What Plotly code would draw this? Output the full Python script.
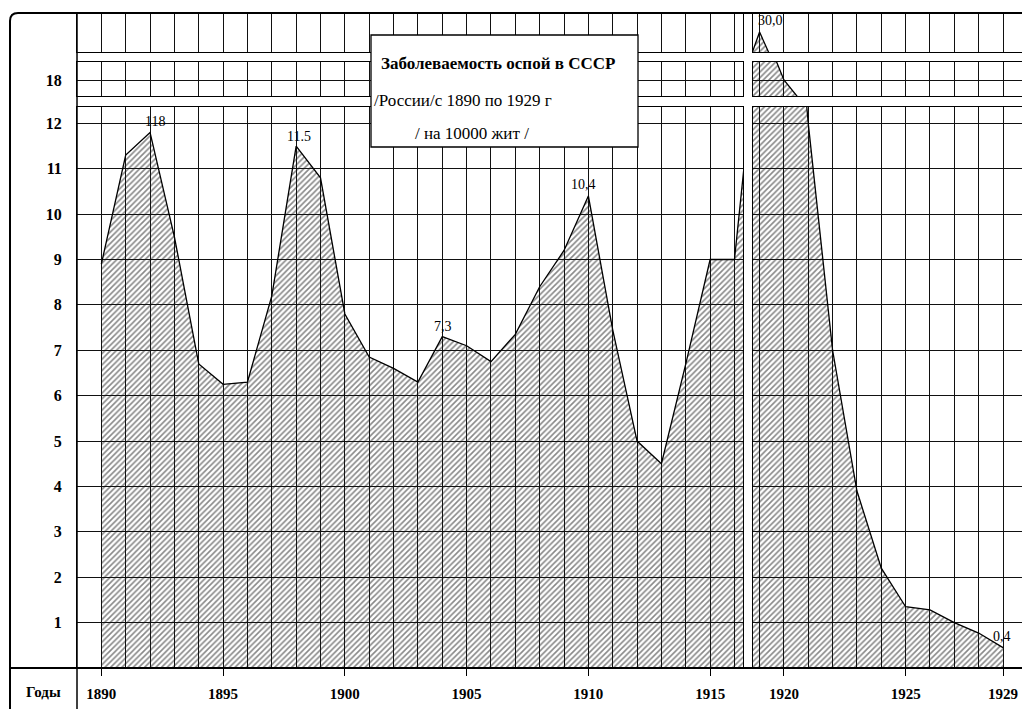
import plotly.graph_objects as go
from plotly.subplots import make_subplots

# ---- data (1917/1918 lie hidden in the axis break, estimated) ----
years = [1890, 1891, 1892, 1893, 1894, 1895, 1896, 1897, 1898, 1899,
         1900, 1901, 1902, 1903, 1904, 1905, 1906, 1907, 1908, 1909,
         1910, 1911, 1912, 1913, 1914, 1915, 1916, 1917, 1918, 1919,
         1920, 1921, 1922, 1923, 1924, 1925, 1926, 1927, 1928, 1929]
values = [8.9, 11.3, 11.8, 9.5, 6.7, 6.25, 6.3, 8.2, 11.5, 10.8,
          7.8, 6.85, 6.6, 6.3, 7.3, 7.1, 6.75, 7.35, 8.4, 9.2,
          10.4, 7.45, 5.0, 4.5, 6.7, 9.0, 9.0, 14.2, 15.0, 30.0,
          18.0, 12.0, 7.0, 3.9, 2.2, 1.35, 1.28, 1.0, 0.77, 0.45]

label_years = [1892, 1898, 1904, 1910, 1919, 1929]
label_values = [11.8, 11.5, 7.3, 10.4, 30.0, 0.45]
label_texts = ["118", "11.5", "7,3", "10,4", "30,0", "0,4"]

x_ticks_left = [1890, 1895, 1900, 1905, 1910, 1915]
x_ticks_right = [1920, 1925, 1929]
y_ticks_lower = [0, 1, 2, 3, 4, 5, 6, 7, 8, 9, 10, 11, 12]
y_ticks_middle = [18]

title_lines = ["Заболеваемость оспой в СССР",
               "/России/с 1890 по 1929 г",
               "/ на 10000 жит /"]
x_title = "Годы"

# ---- layout geometry ----
W, H = 945, 655
def px2x(p):
    return (p - 77) / W
def py2y(p):
    return (668 - p) / H

SERIF = "Liberation Serif"

fig = make_subplots(rows=3, cols=2)

for r in (1, 2, 3):
    for c in (1, 2):
        fig.add_trace(go.Scatter(
            x=years, y=values, mode="lines",
            line=dict(color="black", width=1.3),
            fill="tozeroy", fillcolor="rgba(0,0,0,0)",
            fillpattern=dict(shape="/", size=4, solidity=0.4,
                             fgcolor="#111", bgcolor="rgba(0,0,0,0)"),
            hoverinfo="skip", showlegend=False), row=r, col=c)

xdom = {1: [0, px2x(743)], 2: [px2x(753), 1.0]}
xrng = {1: [1889.0, 1916.35], 2: [1918.73, 1929.78]}
xt = {1: x_ticks_left, 2: x_ticks_right}
ydom = {1: [py2y(52), 1.0], 2: [py2y(96), py2y(62)], 3: [0, py2y(107)]}
yrng = {1: [25.6, 34.2], 2: [14.8, 21.6], 3: [0, 12.36]}

grid = "#111111"
for r in (1, 2, 3):
    for c in (1, 2):
        idx = (r - 1) * 2 + c
        xa = dict(domain=xdom[c], range=xrng[c], showline=True, mirror=True,
                  linecolor="black", linewidth=1, zeroline=False,
                  tickmode="array", tickvals=xt[c],
                  showgrid=True, gridcolor=grid, gridwidth=1,
                  minor=dict(tick0=1890, dtick=1, showgrid=True,
                             gridcolor=grid, gridwidth=1, ticks=""),
                  fixedrange=True)
        if r == 3:
            xa.update(ticks="outside", ticklen=7, tickcolor="black", tickwidth=1,
                      showticklabels=True, ticklabelstandoff=5,
                      tickfont=dict(family=SERIF, size=15, color="black", weight="bold"))
        else:
            xa.update(ticks="", showticklabels=False)
        ya = dict(domain=ydom[r], range=yrng[r], showline=True, mirror=True,
                  linecolor="black", linewidth=1, zeroline=False, ticks="",
                  fixedrange=True,
                  tickfont=dict(family=SERIF, size=16, color="black", weight="bold"),
                  ticklabelstandoff=11)
        if r == 3:
            ya.update(tickmode="array", tickvals=y_ticks_lower,
                      ticktext=[("" if v == 0 else str(v)) for v in y_ticks_lower],
                      showgrid=True, gridcolor=grid, gridwidth=1)
        elif r == 2:
            ya.update(tickmode="array", tickvals=y_ticks_middle,
                      ticktext=[str(v) for v in y_ticks_middle],
                      showgrid=True, gridcolor=grid, gridwidth=1)
        else:
            ya.update(showgrid=False, showticklabels=False)
        ya["showticklabels"] = (c == 1) and r != 1
        fig.layout["xaxis%d" % idx if idx > 1 else "xaxis"].update(xa)
        fig.layout["yaxis%d" % idx if idx > 1 else "yaxis"].update(ya)

shapes = []
# outer frame with rounded top-left corner
x0, yb, yt, rr = px2x(10), py2y(709), py2y(13), 8
shapes.append(dict(type="path", xref="paper", yref="paper",
                   path=("M %f,%f L %f,%f Q %f,%f %f,%f L %f,%f" %
                         (x0, yb, x0, yt - rr / H, x0, yt, x0 + rr / W, yt, 1.0, yt)),
                   line=dict(color="black", width=2)))
# vertical separator between labels and plot
shapes.append(dict(type="line", xref="paper", yref="paper",
                   x0=0, x1=0, y0=py2y(709), y1=py2y(13),
                   line=dict(color="black", width=1.5)))
# baseline
shapes.append(dict(type="line", xref="paper", yref="paper",
                   x0=px2x(10), x1=1.0, y0=0, y1=0,
                   line=dict(color="black", width=2)))
# title box
shapes.append(dict(type="rect", xref="paper", yref="paper",
                   x0=px2x(371), x1=px2x(638), y0=py2y(147), y1=py2y(35),
                   fillcolor="white", line=dict(color="black", width=1.3),
                   layer="above"))

annotations = []
annotations.append(dict(xref="paper", yref="paper", x=px2x(379), y=py2y(64),
                        xanchor="left", yanchor="middle", showarrow=False,
                        text="<b>" + title_lines[0] + "</b>",
                        font=dict(family=SERIF, size=17, color="black")))
annotations.append(dict(xref="paper", yref="paper", x=px2x(372), y=py2y(100),
                        xanchor="left", yanchor="middle", showarrow=False,
                        text=title_lines[1],
                        font=dict(family=SERIF, size=17, color="black")))
annotations.append(dict(xref="paper", yref="paper", x=px2x(413), y=py2y(133),
                        xanchor="left", yanchor="middle", showarrow=False,
                        text=title_lines[2],
                        font=dict(family=SERIF, size=17, color="black")))
annotations.append(dict(xref="paper", yref="paper", x=px2x(43), y=py2y(692),
                        xanchor="center", yanchor="middle", showarrow=False,
                        text="<b>" + x_title + "</b>",
                        font=dict(family=SERIF, size=15, color="black")))

# data labels
ref = {1892: (5, 5), 1898: (5, 5), 1904: (5, 5), 1910: (5, 5), 1919: (2, 2), 1929: (6, 6)}
shifts = {1892: (5, 11), 1898: (3, 10), 1904: (1, 10), 1910: (-5, 11), 1919: (-4, 12), 1929: (-1, 11)}
for yr, v, t in zip(label_years, label_values, label_texts):
    xi, yi = ref[yr]
    dx, dy = shifts[yr]
    annotations.append(dict(xref="x%d" % xi, yref="y%d" % yi, x=yr, y=v,
                            xanchor="left" if yr == 1919 else "center",
                            yanchor="middle", xshift=dx, yshift=dy,
                            showarrow=False, text=t,
                            font=dict(family=SERIF, size=14, color="black")))

fig.update_layout(width=1022, height=709,
                  margin=dict(l=77, r=0, t=13, b=41),
                  paper_bgcolor="white", plot_bgcolor="white",
                  shapes=shapes, annotations=annotations, showlegend=False)

fig.write_html("out.html",
               config={"displayModeBar": False},
               post_script="document.body.style.margin='0';"
                           "document.body.style.overflow='hidden';")
